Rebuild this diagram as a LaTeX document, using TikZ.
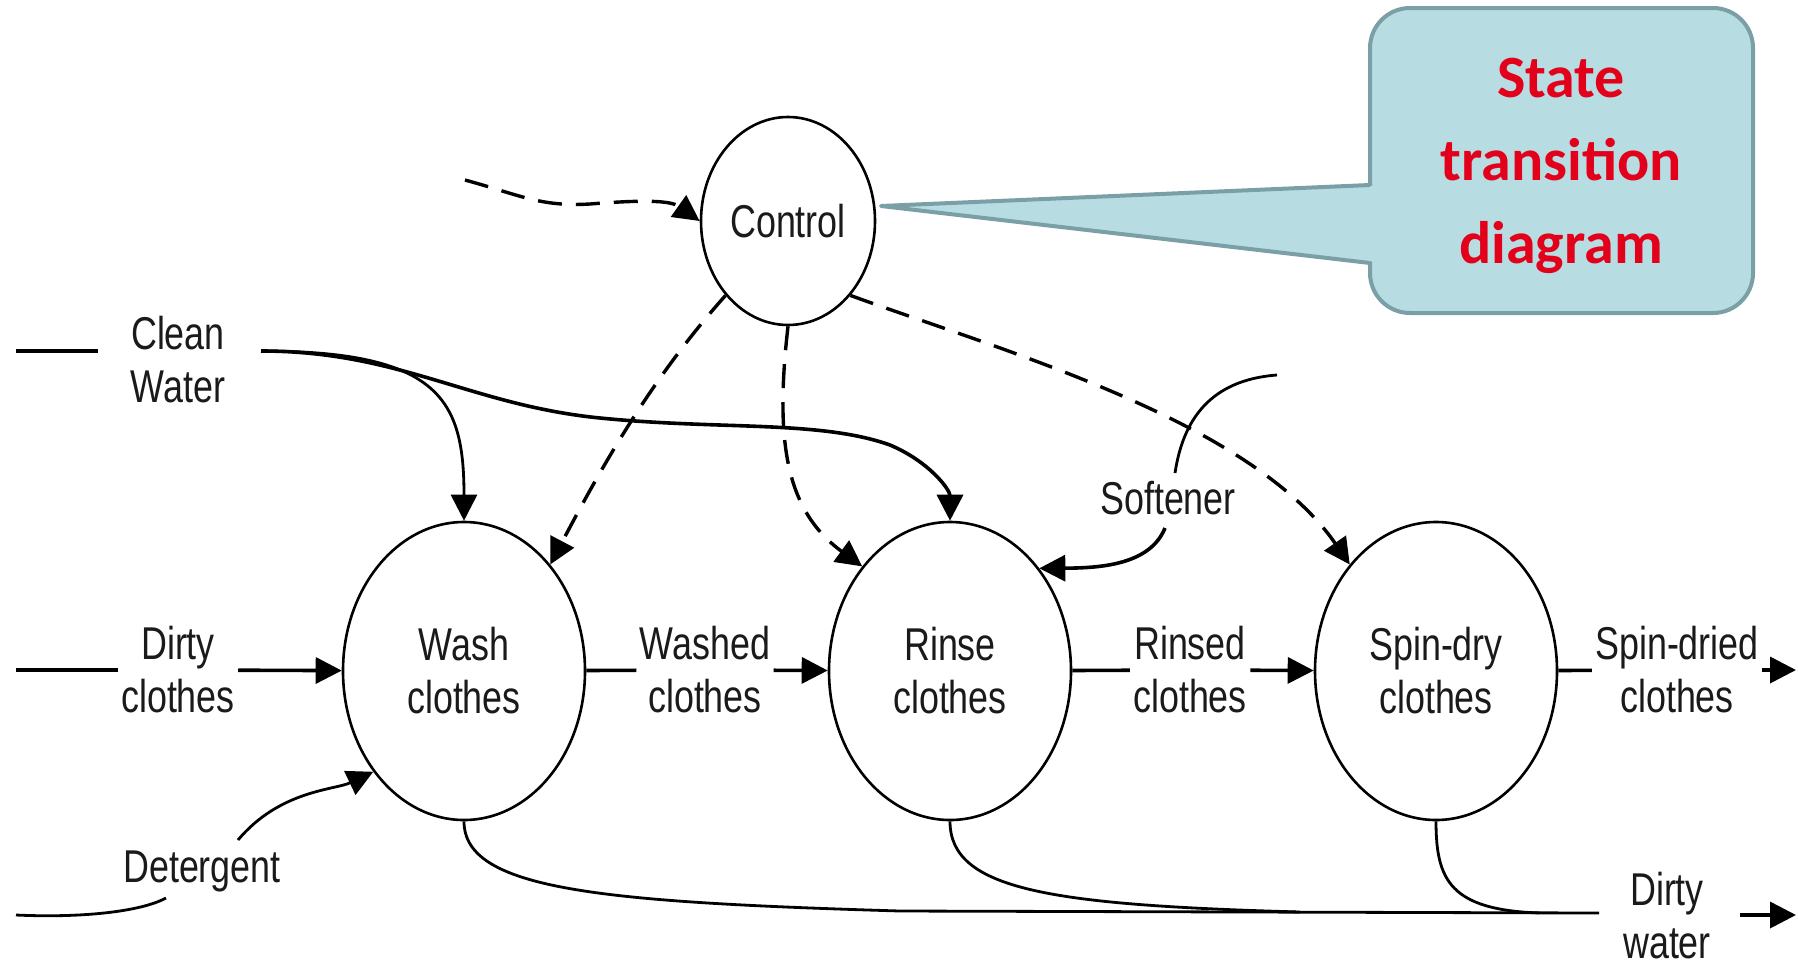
\documentclass[tikz,border=0pt]{standalone}
\usepackage{fontspec}
\setmainfont{Liberation Sans}[FakeStretch=0.78]
\newfontfamily\calloutfont{Carlito}
\usetikzlibrary{shapes.geometric,arrows.meta}
\definecolor{calloutfill}{HTML}{B7DCE2}
\definecolor{calloutdraw}{HTML}{7B9FA6}
\definecolor{callouttext}{HTML}{E3001B}
\definecolor{ink}{HTML}{1A1A1A}
\begin{document}
\begin{tikzpicture}[x=0.5pt,y=-0.5pt,
  font=\fontsize{23}{26.5}\selectfont,
  state/.style={draw=black, line width=1.3pt, ellipse, inner sep=0pt,
    minimum width=121pt, minimum height=149pt, align=center, text=ink},
  lbl/.style={align=center, inner sep=1.5pt, text=ink},
  flow/.style={line width=1.8pt},
  thin flow/.style={line width=1.4pt},
  arr/.style={flow, -{Triangle[length=13pt,width=13pt]}},
  thinarr/.style={thin flow, -{Triangle[length=13pt,width=13pt]}},
  ctl/.style={line width=1.7pt, dash pattern=on 12pt off 7pt},
  ctlarr/.style={ctl, -{Triangle[length=13pt,width=13pt]}},
  calloutbox/.style={draw=calloutdraw, fill=calloutfill, line width=2pt,
    rounded corners=20pt, minimum width=191.5pt, minimum height=152.5pt, inner sep=0pt},
  callouttxt/.style={align=center, text=callouttext, inner sep=0pt,
    font=\calloutfont\bfseries\fontsize{30}{41.5}\selectfont}]
\useasboundingbox (0,0) rectangle (1798,970);

% callout
\node[calloutbox] (callout) at (1561.5,160.5) {};
\coordinate (pa) at (1370,185);
\coordinate (pb) at (1370,263);
\coordinate (ptip) at (881,206);
\fill[calloutfill] (1376,186) -- (ptip) -- (1376,262) -- cycle;
\draw[calloutdraw, line width=2pt, line join=round] (pa) -- (ptip) -- (pb);
\node[callouttxt] (callouttext) at (1561,166) {State\\transition\\diagram};

% states
\node[state, minimum width=87pt, minimum height=104pt] (control) at (788,221) {Control};
\node[state] (wash) at (464,671) {Wash\\clothes};
\node[state] (rinse) at (950,671) {Rinse\\clothes};
\node[state] (spin) at (1436,671) {Spin-dry\\clothes};

% labels
\node[lbl] (cleanw) at (178,360) {Clean\\Water};
\node[lbl] (dirtyc) at (178,670) {Dirty\\clothes};
\node[lbl] (deterg) at (202,871) {Detergent};
\node[lbl] (washed) at (705,670) {Washed\\clothes};
\node[lbl] (rinsed) at (1190,670) {Rinsed\\clothes};
\node[lbl] (spindried) at (1677,670) {Spin-dried\\clothes};
\node[lbl] (softener) at (1168,498) {Softener};
\node[lbl] (dirtyw) at (1667,916) {Dirty\\water};

% free ends
\coordinate (cwin) at (16,351);
\coordinate (cwinend) at (98,351);
\coordinate (cwout) at (261,351);
\coordinate (dcin) at (16,670);
\coordinate (detin) at (16,915);
\coordinate (detinend) at (166,898);
\coordinate (detout) at (238,840);
\coordinate (ctlin) at (465,180);
\coordinate (softin) at (1277,375);
\coordinate (softa) at (1175,473);
\coordinate (softb) at (1165,528);
\coordinate (dwend) at (1599,913);
\coordinate (dwarr) at (1740,915);
\coordinate (dwtip) at (1796,915);
\coordinate (sdtip) at (1796,670);

% main flow
\draw[flow] (dcin) -- (dirtyc);
\draw[arr] (dirtyc) -- (wash);
\draw[flow] (wash) -- (washed);
\draw[arr] (washed) -- (rinse);
\draw[flow] (rinse) -- (rinsed);
\draw[arr] (rinsed) -- (spin);
\draw[flow] (spin) -- (spindried);
\draw[arr] (spindried) -- (sdtip);

% clean water
\draw[flow] (cwin) -- (cwinend);
\draw[thinarr] (cwout) .. controls (440,351) and (464,400) .. (wash.north);
\draw[flow,-{Triangle[length=13pt,width=13pt]}] (cwout) .. controls (400,351) and (470,405) .. (600,418)
  .. controls (720,430) and (820,420) .. (890,445)
  .. controls (930,462) and (950,490) .. (rinse.north);

% detergent
\draw[thin flow] (detin) .. controls (80,918) and (140,912) .. (detinend);
\draw[thinarr] (detout) .. controls (280,790) and (335,790) .. (wash.228);

% softener
\draw[thin flow] (softin) .. controls (1210,380) and (1183,420) .. (softa);
\draw[arr] (softb) .. controls (1150,565) and (1100,568) .. (rinse.49);

% control
\draw[ctlarr] (ctlin) .. controls (520,195) and (540,207) .. (590,204)
  .. controls (640,200) and (670,200) .. (control.west);
\draw[ctlarr] (control.230) .. controls (650,380) and (600,470) .. (wash.51);
\draw[ctlarr] (control.south) .. controls (775,440) and (785,510) .. (rinse.130);
\draw[ctlarr] (control.-50) .. controls (1000,350) and (1250,420) .. (spin.129);

% dirty water
\draw[thin flow] (wash.south) .. controls (464,890) and (600,902) .. (900,911) -- (dwend);
\draw[thin flow] (rinse.south) .. controls (950,890) and (1050,905) .. (1300,912);
\draw[thin flow] (spin.south) .. controls (1436,880) and (1450,910) .. (1540,913);
\draw[arr] (dwarr) -- (dwtip);
\end{tikzpicture}
\end{document}
